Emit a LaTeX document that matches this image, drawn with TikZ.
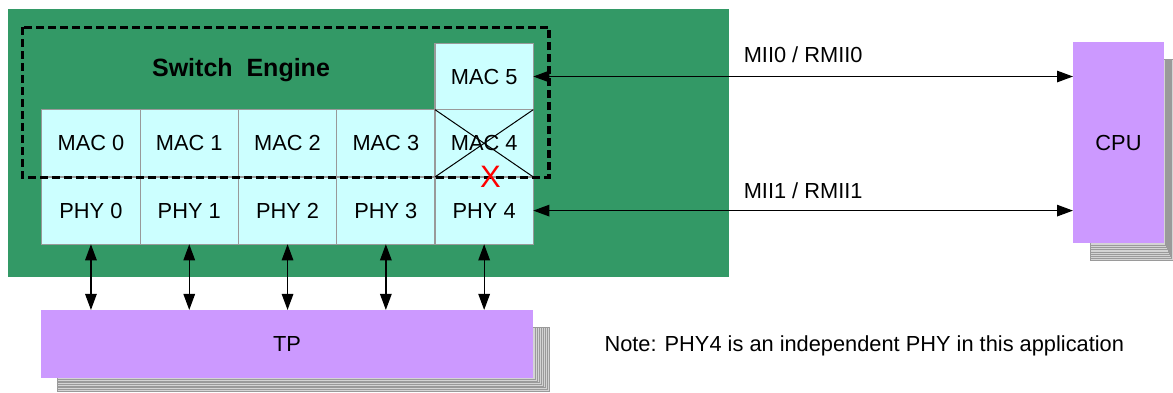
\documentclass[tikz,border=0pt]{standalone}
\usepackage{fontspec}
\setmainfont{Liberation Sans}
\usepackage{xcolor}
\usetikzlibrary{arrows.meta,positioning}
\definecolor{board}{HTML}{339966}
\definecolor{cellfill}{HTML}{CCFFFF}
\definecolor{cellline}{HTML}{999999}
\definecolor{chip}{HTML}{CC99FF}
\definecolor{sheet}{HTML}{D4D4D4}
\definecolor{sheetline}{HTML}{9A9A9A}

\tikzset{
    lbl/.style={font=\fontsize{21.8}{24}\selectfont},
    cell/.style={lbl,draw=cellline,fill=cellfill,line width=1.2pt,minimum width=98.3pt,minimum height=67.3pt,outer sep=0pt,inner sep=0pt},
    chipbox/.style={lbl,fill=chip,outer sep=0pt,inner sep=0pt},
    link/.style={line width=1.3pt,{Triangle[length=16pt,width=11.5pt]}-{Triangle[length=16pt,width=11.5pt]}},
}

\begin{document}
\begin{tikzpicture}[x=1pt,y=-1pt]
    \useasboundingbox (0,0) rectangle (1173,392);
    \fill [board] (8,9) rectangle (729,277);

    \foreach \k in {8,7,...,1}
        \draw [fill=sheet,draw=sheetline,line width=0.6pt] (57.7,327) rectangle (533+2*\k,377.7+1.65*\k);
    \foreach \k in {8,7,...,1}
        \draw [fill=sheet,draw=sheetline,line width=0.6pt] (1090,59) rectangle (1164+1.1*\k,243.3+2.15*\k);

    \node [chipbox,minimum width=492pt,minimum height=67.7pt] (tp) at (287,343.8) {TP};
    \node [chipbox,minimum width=91pt,minimum height=201pt] (cpu) at (1118.5,142.8) {CPU};

    \node [cell] (mac0) at (90.95,143.3) {MAC 0};
    \node [cell,right=0pt of mac0] (mac1) {MAC 1};
    \node [cell,right=0pt of mac1] (mac2) {MAC 2};
    \node [cell,right=0pt of mac2] (mac3) {MAC 3};
    \node [cell,right=0pt of mac3] (mac4) {MAC 4};
    \node [cell,above=0pt of mac4,minimum height=66.3pt] (mac5) {MAC 5};
    \node [cell,below=0pt of mac0] (phy0) {PHY 0};
    \node [cell,right=0pt of phy0] (phy1) {PHY 1};
    \node [cell,right=0pt of phy1] (phy2) {PHY 2};
    \node [cell,right=0pt of phy2] (phy3) {PHY 3};
    \node [cell,right=0pt of phy3] (phy4) {PHY 4};

    \draw [line width=1pt] (mac4.north west)--(mac4.south east);
    \draw [line width=1pt] (mac4.south west)--(mac4.north east);

    \draw [dash pattern=on 8pt off 4pt,line width=3.3pt] (22.5,27.3) rectangle (549,177.5);
    \node [font=\fontsize{25}{28}\selectfont\bfseries] (engine) at (241,70) {Switch~~Engine};
    \node [text=red,font=\fontsize{31}{32}\selectfont,inner sep=0pt] (off) at (490.5,176.5) {X};

    \draw [link] (mac5.east)--(cpu.west |- mac5.east) node[lbl,midway,above=10pt] (mii0) {MII0 / RMII0};
    \draw [link] (phy4.east)--(cpu.west |- phy4.east) node[lbl,midway,above=8pt] (mii1) {MII1 / RMII1};

    \draw [link] (phy0.south)--(phy0.south |- tp.north);
    \draw [link] (phy1.south)--(phy1.south |- tp.north);
    \draw [link] (phy2.south)--(phy2.south |- tp.north);
    \draw [link] (phy3.south)--(phy3.south |- tp.north);
    \draw [link] (phy4.south)--(phy4.south |- tp.north);

    \node [lbl,anchor=west] (note) at (601,346) {Note: PHY4 is an independent PHY in this application};
\end{tikzpicture}
\end{document}
